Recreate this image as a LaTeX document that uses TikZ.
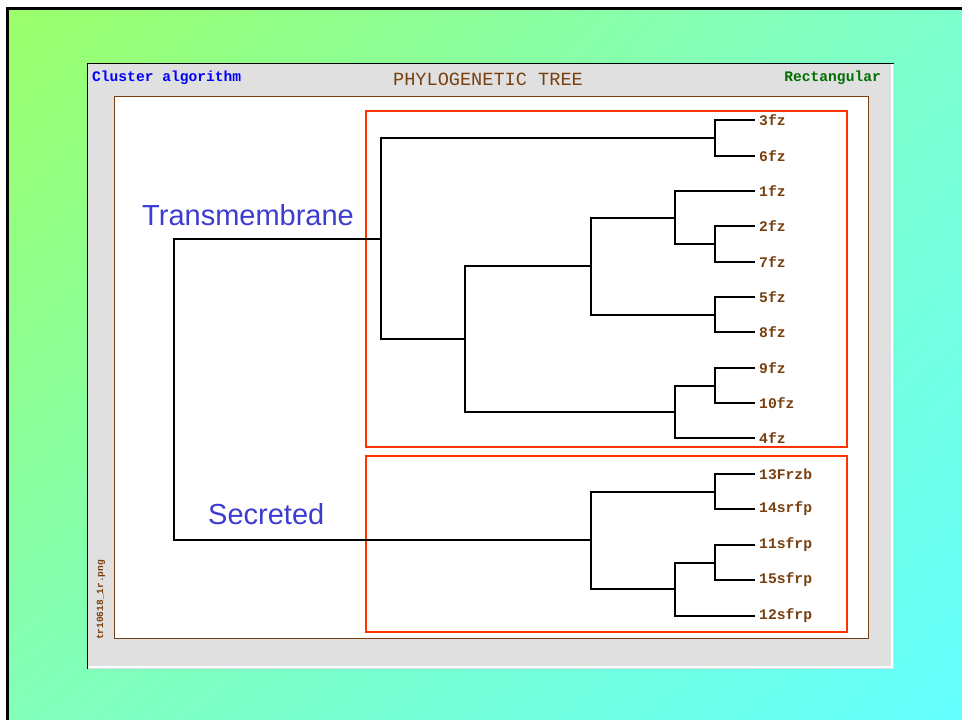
\documentclass[tikz,border=0pt]{standalone}
\usepackage{fontspec}
\usetikzlibrary{shadings}
\setmainfont{Liberation Sans}
\newfontfamily\monofont{Liberation Mono}
\definecolor{bgUL}{RGB}{155,255,105}
\definecolor{bgUR}{RGB}{125,255,205}
\definecolor{bgLL}{RGB}{130,255,185}
\definecolor{bgLR}{RGB}{100,255,255}
\definecolor{panelgray}{RGB}{224,224,224}
\definecolor{treebrown}{RGB}{120,64,16}
\definecolor{boxred}{RGB}{255,51,0}
\definecolor{lblblue}{RGB}{60,60,208}
\definecolor{hdrblue}{RGB}{0,0,255}
\definecolor{hdrgreen}{RGB}{0,110,0}
\tikzset{
  leaf/.style={anchor=west,inner sep=0pt,text=treebrown,font=\monofont\bfseries\fontsize{14.7}{14.7}\selectfont},
  branch/.style={draw=black,line width=2pt},
  groupbox/.style={draw=boxred,line width=2.8pt},
  grouplabel/.style={text=lblblue,font=\fontsize{29}{29}\selectfont,inner sep=0pt},
  hdr/.style={inner sep=0pt,font=\monofont\bfseries\fontsize{14.6}{14.6}\selectfont},
}
\begin{document}
\begin{tikzpicture}[x=1pt,y=-1pt]
\useasboundingbox (0,0) rectangle (962,720);
% background
\fill[white] (0,0) rectangle (962,720);
\shade[upper left=bgUL,upper right=bgUR,lower left=bgLL,lower right=bgLR] (8,9) rectangle (962,720);
\draw[black,line width=3pt] (7.5,720) -- (7.5,8.5) -- (962,8.5);
% panel
\fill[panelgray] (87,63) rectangle (894,669);
\draw[white,line width=2pt] (88,667) -- (892,667) -- (892,64);
\draw[black,line width=1.8pt] (87.5,669) -- (87.5,63.5) -- (894,63.5);
\fill[white] (114,96) rectangle (868,638);
\draw[treebrown,line width=1pt] (114,96) rectangle (868,638);
% header
\node[hdr,anchor=west,text=hdrblue] (halg) at (92,78) {Cluster algorithm};
\node[inner sep=0pt,text=treebrown,font=\monofont\fontsize{18.6}{18.6}\selectfont] (htitle) at (488,79) {PHYLOGENETIC TREE};
\node[hdr,anchor=east,text=hdrgreen] (hshape) at (881,78) {Rectangular};
\node[rotate=90,inner sep=0pt,text=treebrown,font=\monofont\bfseries\fontsize{9.5}{9.5}\selectfont,anchor=west] (fname) at (101,640) {tr10618\_1r.png};
% red boxes
\draw[groupbox] (366,111) rectangle (847,447);
\draw[groupbox] (366,456) rectangle (847,632);
% leaves
\foreach \n/\y/\t in {l3/120/3fz,l6/156/6fz,l1/191/1fz,l2/226/2fz,l7/262/7fz,l5/297/5fz,l8/332/8fz,l9/368/9fz,l10/403/10fz,l4/438/4fz,l13/474/13Frzb,l14/509/14srfp,l11/545/11sfrp,l15/580/15sfrp,l12/616/12sfrp}{
  \coordinate (\n) at (755,\y);
  \node[leaf] (t\n) at (759,\y) {\t};
}
% internal node coordinates
\coordinate (n36) at (715,138);
\coordinate (n27) at (715,244);
\coordinate (n127) at (675,217.5);
\coordinate (n58) at (715,314.5);
\coordinate (n1258) at (591,266);
\coordinate (n910) at (715,385.5);
\coordinate (n9104) at (675,412);
\coordinate (nB) at (465,339);
\coordinate (nT) at (381,238.5);
\coordinate (n1314) at (715,491.5);
\coordinate (n1115) at (715,562.5);
\coordinate (n111512) at (675,589);
\coordinate (nS) at (591,540);
\coordinate (root) at (174,389);
% branches
\draw[branch] (l3) -| (n36) |- (l6);
\draw[branch] (l2) -| (n27) |- (l7);
\draw[branch] (l1) -| (n127) |- (n27);
\draw[branch] (l5) -| (n58) |- (l8);
\draw[branch] (n127) -| (n1258) |- (n58);
\draw[branch] (l9) -| (n910) |- (l10);
\draw[branch] (n910) -| (n9104) |- (l4);
\draw[branch] (n1258) -| (nB) |- (n9104);
\draw[branch] (n36) -| (nT) |- (nB);
\draw[branch] (l13) -| (n1314) |- (l14);
\draw[branch] (l11) -| (n1115) |- (l15);
\draw[branch] (n1115) -| (n111512) |- (l12);
\draw[branch] (n1314) -| (nS) |- (n111512);
\draw[branch] (nT) -| (root) |- (nS);
% group labels
\node[grouplabel,anchor=west] (gt) at (142,215) {Transmembrane};
\node[grouplabel,anchor=west] (gs) at (208,514) {Secreted};
\end{tikzpicture}
\end{document}
